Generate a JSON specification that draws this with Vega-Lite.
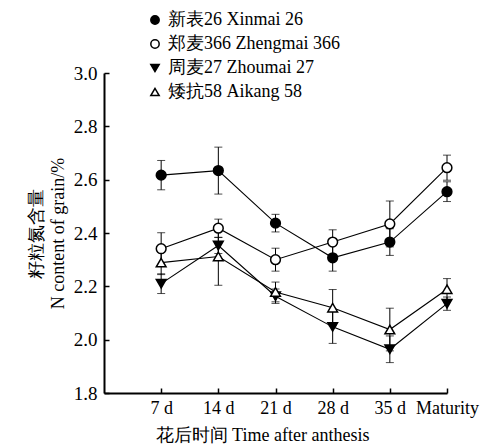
{
  "$schema": "https://vega.github.io/schema/vega-lite/v6.json",
  "width": 343,
  "height": 320,
  "autosize": {"type": "none"},
  "padding": {"left": 104, "top": 73, "right": 53, "bottom": 55},
  "background": "white",
  "config": {
    "view": {"stroke": null},
    "font": "Liberation Serif",
    "axis": {"labelFont": "Liberation Serif", "titleFont": "Liberation Serif"},
    "legend": {"labelFont": "Liberation Serif"}
  },
  "data": {
    "values": [
      {"variety": "新表26 Xinmai 26", "t": 1, "n": 2.617, "sd": 0.055},
      {"variety": "新表26 Xinmai 26", "t": 2, "n": 2.634, "sd": 0.088},
      {"variety": "新表26 Xinmai 26", "t": 3, "n": 2.437, "sd": 0.033},
      {"variety": "新表26 Xinmai 26", "t": 4, "n": 2.307, "sd": 0.05},
      {"variety": "新表26 Xinmai 26", "t": 5, "n": 2.366, "sd": 0.05},
      {"variety": "新表26 Xinmai 26", "t": 6, "n": 2.555, "sd": 0.037},
      {"variety": "郑麦366 Zhengmai 366", "t": 1, "n": 2.341, "sd": 0.06},
      {"variety": "郑麦366 Zhengmai 366", "t": 2, "n": 2.418, "sd": 0.034},
      {"variety": "郑麦366 Zhengmai 366", "t": 3, "n": 2.3, "sd": 0.043},
      {"variety": "郑麦366 Zhengmai 366", "t": 4, "n": 2.366, "sd": 0.046},
      {"variety": "郑麦366 Zhengmai 366", "t": 5, "n": 2.434, "sd": 0.086},
      {"variety": "郑麦366 Zhengmai 366", "t": 6, "n": 2.645, "sd": 0.047},
      {"variety": "周麦27 Zhoumai 27", "t": 1, "n": 2.21, "sd": 0.037},
      {"variety": "周麦27 Zhoumai 27", "t": 2, "n": 2.353, "sd": 0.03},
      {"variety": "周麦27 Zhoumai 27", "t": 3, "n": 2.163, "sd": 0.027},
      {"variety": "周麦27 Zhoumai 27", "t": 4, "n": 2.048, "sd": 0.062},
      {"variety": "周麦27 Zhoumai 27", "t": 5, "n": 1.964, "sd": 0.05},
      {"variety": "周麦27 Zhoumai 27", "t": 6, "n": 2.135, "sd": 0.025},
      {"variety": "矮抗58 Aikang 58", "t": 1, "n": 2.289, "sd": 0.045},
      {"variety": "矮抗58 Aikang 58", "t": 2, "n": 2.312, "sd": 0.108},
      {"variety": "矮抗58 Aikang 58", "t": 3, "n": 2.179, "sd": 0.037},
      {"variety": "矮抗58 Aikang 58", "t": 4, "n": 2.12, "sd": 0.068},
      {"variety": "矮抗58 Aikang 58", "t": 5, "n": 2.038, "sd": 0.08},
      {"variety": "矮抗58 Aikang 58", "t": 6, "n": 2.189, "sd": 0.04}
    ]
  },
  "encoding": {
    "x": {
      "field": "t",
      "type": "quantitative",
      "scale": {"domain": [0, 6], "nice": false, "zero": false},
      "axis": {
        "values": [1, 2, 3, 4, 5, 6],
        "labelExpr": "['', '7 d', '14 d', '21 d', '28 d', '35 d', 'Maturity'][datum.value]",
        "grid": false,
        "domainColor": "black",
        "domainWidth": 2,
        "tickColor": "black",
        "tickWidth": 1.5,
        "tickSize": -5,
        "labelPadding": 11,
        "labelColor": "black",
        "labelFontSize": 18,
        "labelFlush": false,
        "labelOverlap": false,
        "title": "花后时间 Time after anthesis",
        "titleFontSize": 18,
        "titleFontWeight": "normal",
        "titleColor": "black",
        "titlePadding": 9,
        "titleX": 158,
        "titleAnchor": "middle"
      }
    },
    "y": {
      "field": "n",
      "type": "quantitative",
      "scale": {"domain": [1.8, 3.0], "nice": false, "zero": false},
      "axis": {
        "values": [1.8, 2.0, 2.2, 2.4, 2.6, 2.8, 3.0],
        "format": ".1f",
        "grid": false,
        "domainColor": "black",
        "domainWidth": 2,
        "tickColor": "black",
        "tickWidth": 1.5,
        "tickSize": -5,
        "labelPadding": 12,
        "labelColor": "black",
        "labelFontSize": 19,
        "title": ["籽粒氮含量", "N content of grain/%"],
        "titleFontSize": 18,
        "titleFontWeight": "normal",
        "titleColor": "black",
        "titlePadding": 6,
        "titleLineHeight": 22
      }
    }
  },
  "layer": [
    {
      "mark": {"type": "errorbar", "ticks": {"size": 8, "color": "black"}, "rule": {"color": "black", "strokeWidth": 1}},
      "encoding": {
        "y": {"field": "n", "type": "quantitative"},
        "yError": {"field": "sd"},
        "detail": {"field": "variety"}
      }
    },
    {
      "mark": {"type": "line", "color": "black", "strokeWidth": 1.1},
      "encoding": {"detail": {"field": "variety"}}
    },
    {
      "mark": {"type": "point", "filled": true, "size": 95, "stroke": "black", "strokeWidth": 1.5, "opacity": 1},
      "encoding": {
        "shape": {
          "field": "variety",
          "type": "nominal",
          "scale": {
            "domain": ["新表26 Xinmai 26", "郑麦366 Zhengmai 366", "周麦27 Zhoumai 27", "矮抗58 Aikang 58"],
            "range": ["circle", "circle", "triangle-down", "triangle-up"]
          },
          "legend": {
            "title": null,
            "orient": "none",
            "legendX": 42,
            "legendY": -62,
            "labelFontSize": 18,
            "labelColor": "black",
            "symbolSize": 70,
            "rowPadding": 6,
            "labelOffset": 4,
            "labelLimit": 300,
            "encode": {"symbols": {"update": {"stroke": {"value": "black"}, "strokeWidth": {"value": 1.5}}}}
          }
        },
        "fill": {
          "field": "variety",
          "type": "nominal",
          "scale": {
            "domain": ["新表26 Xinmai 26", "郑麦366 Zhengmai 366", "周麦27 Zhoumai 27", "矮抗58 Aikang 58"],
            "range": ["black", "white", "black", "white"]
          },
          "legend": {
            "title": null,
            "orient": "none",
            "legendX": 42,
            "legendY": -62,
            "labelFontSize": 18,
            "labelColor": "black",
            "symbolSize": 70,
            "rowPadding": 6,
            "labelOffset": 4,
            "labelLimit": 300,
            "encode": {"symbols": {"update": {"stroke": {"value": "black"}, "strokeWidth": {"value": 1.5}}}}
          }
        }
      }
    }
  ]
}
